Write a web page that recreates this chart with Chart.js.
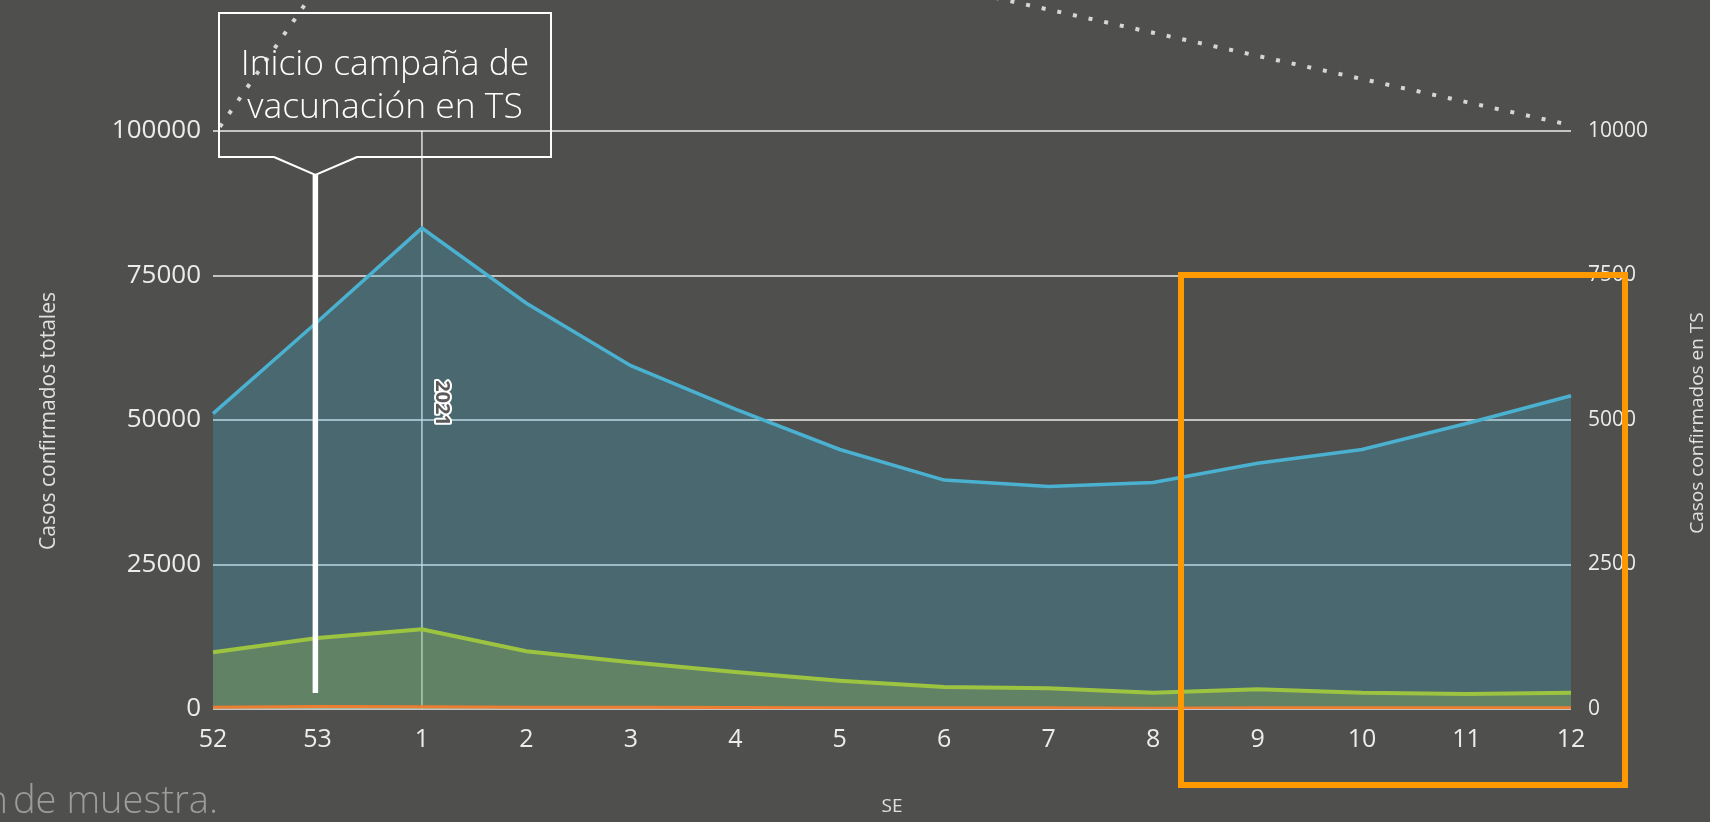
<!DOCTYPE html>
<html>
<head>
<meta charset="utf-8">
<script src="https://cdn.jsdelivr.net/npm/chart.js@4"></script>
<style>
  html, body { margin:0; padding:0; background:#4f4f4d; overflow:hidden; }
  #wrap { width:1710px; height:822px; position:relative; }
  canvas { display:block; }
</style>
</head>
<body>
<div id="wrap"><canvas id="c" width="1710" height="822"></canvas></div>
<script>
// ---- data ----
const categories = ['52','53','1','2','3','4','5','6','7','8','9','10','11','12'];
const casosTotales = [51100, 67000, 83200, 70200, 59400, 51900, 44900, 39600, 38500, 39200, 42500, 44900, 49400, 54200];
const casosTS = [980, 1230, 1380, 1000, 810, 640, 490, 380, 360, 280, 340, 280, 260, 280];
const otrosCasos = [300, 450, 400, 300, 300, 250, 200, 200, 200, 150, 200, 200, 200, 200];
const curvaPunteada = [9900, 12500, 15500, 16500, 16500, 15500, 14000, 12500, 12100, 11700, 11300, 10900, 10500, 10100];
const leftTicks = [0, 25000, 50000, 75000, 100000];
const rightTicks = [0, 2500, 5000, 7500, 10000];
const calloutLines = ['Inicio campaña de', 'vacunación en TS'];
const yearLabel = '2021';
const yearCategory = '1';
const campaignCategoryPos = 0.98; // index position (between 53 and 1)
const footnote = 'n de muestra.';
const leftTitle = 'Casos confirmados totales';
const rightTitle = 'Casos confirmados en TS';
const xTitle = 'SE';

const FONT = '"Open Sans", "Noto Sans", sans-serif';

function fitFont(ctx, text, targetW, weight, family) {
  ctx.font = weight + ' 100px ' + family;
  const w = ctx.measureText(text).width;
  return 100 * targetW / w;
}

const overlay = {
  id: 'overlay',
  beforeDatasetsDraw(chart) {
    const ctx = chart.ctx, x = chart.scales.x, a = chart.chartArea;
    const px = x.getPixelForValue(categories.indexOf(yearCategory));
    ctx.save();
    ctx.strokeStyle = 'rgba(235,240,240,0.85)';
    ctx.lineWidth = 1.6;
    ctx.beginPath(); ctx.moveTo(px, a.top); ctx.lineTo(px, a.bottom); ctx.stroke();
    ctx.restore();
  },
  afterDraw(chart) {
    const ctx = chart.ctx, x = chart.scales.x, y = chart.scales.y, a = chart.chartArea;
    ctx.save();
    // 2021 label
    const px = x.getPixelForValue(categories.indexOf(yearCategory));
    ctx.translate(px + 20, (a.top + a.bottom) / 2 - 17);
    ctx.rotate(Math.PI / 2);
    ctx.font = 'bold 20px ' + FONT;
    ctx.textAlign = 'center'; ctx.textBaseline = 'middle';
    ctx.lineWidth = 4; ctx.strokeStyle = '#ffffff'; ctx.lineJoin = 'round';
    ctx.strokeText(yearLabel, 0, 0);
    ctx.fillStyle = '#5a5a5a';
    ctx.fillText(yearLabel, 0, 0);
    ctx.restore();

    // white vertical marker
    ctx.save();
    const wx = x.getPixelForValue(campaignCategoryPos);
    ctx.strokeStyle = '#ffffff'; ctx.lineWidth = 5.5;
    ctx.beginPath(); ctx.moveTo(wx, 175); ctx.lineTo(wx, 693); ctx.stroke();

    // callout box
    ctx.lineWidth = 2; ctx.strokeStyle = '#ffffff'; ctx.lineJoin = 'miter';
    ctx.beginPath();
    ctx.moveTo(274, 157); ctx.lineTo(219, 157); ctx.lineTo(219, 13);
    ctx.lineTo(551, 13); ctx.lineTo(551, 157); ctx.lineTo(357, 157);
    ctx.lineTo(wx, 175); ctx.lineTo(274, 157);
    ctx.stroke();
    const fs = fitFont(ctx, calloutLines[0], 289, '300', FONT);
    ctx.font = '300 ' + fs.toFixed(1) + 'px ' + FONT;
    ctx.fillStyle = '#ffffff'; ctx.textAlign = 'center'; ctx.textBaseline = 'middle';
    ctx.fillText(calloutLines[0], 385, 65);
    ctx.fillText(calloutLines[1], 385, 108);

    // orange rectangle
    ctx.strokeStyle = '#ff9900'; ctx.lineWidth = 6;
    ctx.strokeRect(1181, 275, 444, 510);

    // axis titles
    ctx.fillStyle = '#e0e0e0';
    ctx.font = '21px ' + FONT;
    ctx.save(); ctx.translate(49, 421); ctx.rotate(-Math.PI / 2);
    ctx.textAlign = 'center'; ctx.textBaseline = 'middle';
    ctx.fillText(leftTitle, 0, 0); ctx.restore();
    ctx.font = '19px ' + FONT;
    ctx.save(); ctx.translate(1698, 423); ctx.rotate(-Math.PI / 2);
    ctx.textAlign = 'center'; ctx.textBaseline = 'middle';
    ctx.fillText(rightTitle, 0, 0); ctx.restore();
    ctx.font = '19px ' + FONT;
    ctx.textAlign = 'center'; ctx.textBaseline = 'middle';
    ctx.fillText(xTitle, (a.left + a.right) / 2, 807);

    // footnote (partially cut at the left edge, as in the source)
    const ff = fitFont(ctx, 'de muestra.', 205, '300', FONT);
    ctx.font = '300 ' + ff.toFixed(1) + 'px ' + FONT;
    ctx.fillStyle = '#9c9c9c'; ctx.textAlign = 'left'; ctx.textBaseline = 'alphabetic';
    const wd = ctx.measureText('de muestra.').width;
    ctx.fillText('de muestra.', 218 - wd, 813);
    const wn = ctx.measureText('n').width;
    ctx.fillText('n', 218 - wd - wn - 5, 813);
    ctx.restore();
  }
};

Chart.defaults.font.family = FONT;
new Chart(document.getElementById('c'), {
  type: 'line',
  data: {
    labels: categories,
    datasets: [
      { label: 'Casos confirmados totales', data: casosTotales, yAxisID: 'y', order: 4,
        borderColor: '#4bb1d0', borderWidth: 3.5, backgroundColor: 'rgba(60,170,200,0.28)',
        fill: 'origin', pointRadius: 0, tension: 0 },
      { label: 'Casos confirmados en TS', data: casosTS, yAxisID: 'y1', order: 3,
        borderColor: '#9cc441', borderWidth: 4, backgroundColor: 'rgba(160,200,80,0.28)',
        fill: 'origin', pointRadius: 0, tension: 0 },
      { label: 'Otros', data: otrosCasos, yAxisID: 'y', order: 2,
        borderColor: '#ed7d31', borderWidth: 3, fill: false, pointRadius: 0 },
      { label: 'Tendencia', data: curvaPunteada, yAxisID: 'y1', order: 1,
        borderColor: '#d6d6d6', borderWidth: 4, borderDash: [4, 12], borderDashOffset: 4, borderCapStyle: 'butt',
        fill: false, pointRadius: 0, clip: false }
    ]
  },
  options: {
    responsive: false, animation: false, devicePixelRatio: 1,
    layout: { padding: { top: 131, left: 0, right: 0, bottom: 0 } },
    plugins: { legend: { display: false }, tooltip: { enabled: false } },
    events: [],
    scales: {
      x: {
        offset: false,
        grid: { display: false, drawTicks: false },
        border: { display: false },
        ticks: { color: '#ececec', font: { size: 25 }, padding: 16, maxRotation: 0, autoSkip: false },
        afterFit(s) { s.height = 113; }
      },
      y: {
        position: 'left', min: 0, max: 100000,
        afterBuildTicks(s) { s.ticks = leftTicks.map(v => ({ value: v })); },
        grid: { color: '#c4c4c4', lineWidth: 2, drawTicks: false },
        border: { display: false },
        ticks: { color: '#ececec', font: { size: 26 }, padding: 12, callback: v => String(v) },
        afterFit(s) { s.width = 213; }
      },
      y1: {
        position: 'right', min: 0, max: 10000,
        afterBuildTicks(s) { s.ticks = rightTicks.map(v => ({ value: v })); },
        grid: { display: false, drawTicks: false },
        border: { display: false },
        ticks: { color: '#ececec', font: { size: 21 }, padding: 17, callback: v => String(v) },
        afterFit(s) { s.width = 139; }
      }
    }
  },
  plugins: [overlay]
});
</script>
</body>
</html>
